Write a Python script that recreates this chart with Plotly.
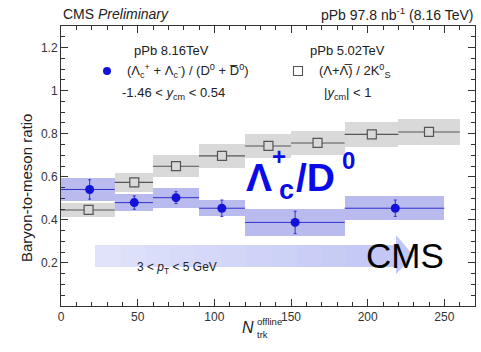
import plotly.graph_objects as go

# ---------------- data ----------------
# pPb 8.16 TeV  Lambda_c+/D0
lc_lo = [0, 35, 60, 90, 120, 185]
lc_hi = [35, 60, 90, 120, 185, 250]
lc_x = [18.7, 47.8, 75.0, 104.9, 152.7, 218.0]
lc_y = [0.541, 0.480, 0.503, 0.454, 0.388, 0.454]
lc_stat = [0.045, 0.031, 0.028, 0.038, 0.052, 0.038]
lc_sys = [0.052, 0.041, 0.046, 0.038, 0.064, 0.057]

# pPb 5.02 TeV  Lambda/2K0S
lk_lo = [0, 35, 60, 90, 120, 150, 185, 220]
lk_hi = [35, 60, 90, 120, 150, 185, 220, 260]
lk_x = [18.0, 47.8, 75.0, 105.0, 135.3, 167.3, 202.7, 240.0]
lk_y = [0.446, 0.574, 0.649, 0.697, 0.743, 0.757, 0.797, 0.808]
lk_sys = [0.033, 0.043, 0.050, 0.054, 0.055, 0.057, 0.058, 0.060]

x_ticks = [0, 50, 100, 150, 200, 250]
y_ticks = [0, 0.2, 0.4, 0.6, 0.8, 1.0, 1.2]
y_ticktext = ["", "0.2", "0.4", "0.6", "0.8", "1", "1.2"]

# ---------------- layout geometry ----------------
W, H = 481, 352
L, R, T, B = 61, 6, 26, 46
PW, PH = W - L - R, H - T - B

def fx(p):
    return (p - L) / PW

def fy(p):
    return (H - B - p) / PH

FONT = "Liberation Sans, Arial, sans-serif"
BLUE = "#1212d8"
BLUEBOX = "#b9baee"
GRAYBOX = "#d9d9d9"
DARK = "#555555"

fig = go.Figure()

def centers(lo, hi):
    return [(a + b) / 2 for a, b in zip(lo, hi)]

def widths(lo, hi):
    return [b - a for a, b in zip(lo, hi)]

# systematic boxes
fig.add_trace(go.Bar(
    x=centers(lk_lo, lk_hi), width=widths(lk_lo, lk_hi),
    base=[v - s for v, s in zip(lk_y, lk_sys)], y=[2 * s for s in lk_sys],
    marker=dict(color=GRAYBOX, line=dict(width=0)), showlegend=False, hoverinfo="skip"))
fig.add_trace(go.Bar(
    x=centers(lc_lo, lc_hi), width=widths(lc_lo, lc_hi),
    base=[v - s for v, s in zip(lc_y, lc_sys)], y=[2 * s for s in lc_sys],
    marker=dict(color=BLUEBOX, line=dict(width=0)), showlegend=False, hoverinfo="skip"))

# points
fig.add_trace(go.Scatter(
    x=lk_x, y=lk_y, mode="markers",
    marker=dict(symbol="square", size=9, color=GRAYBOX, line=dict(color=DARK, width=1.2)),
    error_x=dict(type="data", symmetric=False,
                 array=[h - x for h, x in zip(lk_hi, lk_x)],
                 arrayminus=[x - l for l, x in zip(lk_lo, lk_x)],
                 width=0, thickness=1.1, color=DARK),
    showlegend=False))
fig.add_trace(go.Scatter(
    x=lc_x, y=lc_y, mode="markers",
    marker=dict(symbol="circle", size=9, color=BLUE),
    error_x=dict(type="data", symmetric=False,
                 array=[h - x for h, x in zip(lc_hi, lc_x)],
                 arrayminus=[x - l for l, x in zip(lc_lo, lc_x)],
                 width=0, thickness=1, color="#3030d0"),
    error_y=dict(type="data", array=lc_stat, width=1.5, thickness=1, color="#3030d0"),
    showlegend=False))

# ---------------- decorations ----------------
shapes = []
# gradient arrow band
x0a, x1a, ya0, ya1 = 95, 397, 245, 267
n = 12
for i in range(n):
    a = x0a + (x1a - x0a) * i / n
    b = x0a + (x1a - x0a) * (i + 1) / n + 0.5
    t = i / (n - 1)
    c = "rgb(%d,%d,%d)" % (224 - 30 * t, 227 - 28 * t, 250 - 5 * t)
    shapes.append(dict(type="rect", xref="paper", yref="paper",
                       x0=fx(a), x1=fx(b), y0=fy(ya1), y1=fy(ya0),
                       line=dict(width=0), fillcolor=c, layer="below"))
path = "M %f,%f L %f,%f L %f,%f Z" % (fx(396), fy(235), fx(414), fy(256), fx(396), fy(274))
shapes.append(dict(type="path", xref="paper", yref="paper", path=path,
                   line=dict(width=0), fillcolor="rgb(194,199,245)", layer="below"))
# legend symbols
shapes.append(dict(type="circle", xref="paper", yref="paper", xsizemode="pixel", ysizemode="pixel",
                   xanchor=fx(107), yanchor=fy(71), x0=-4, x1=4, y0=-4, y1=4,
                   fillcolor=BLUE, line=dict(width=0)))
shapes.append(dict(type="rect", xref="paper", yref="paper", xsizemode="pixel", ysizemode="pixel",
                   xanchor=fx(298), yanchor=fy(71), x0=-4.5, x1=4.5, y0=-4.5, y1=4.5,
                   fillcolor="white", line=dict(width=1.1, color=DARK)))

ann = []

def text(x, y, s, size=13, xanchor="center", color="black", **kw):
    ann.append(dict(x=fx(x), y=fy(y), xref="paper", yref="paper", text=s, showarrow=False,
                    xanchor=xanchor, yanchor="middle", font=dict(size=size, color=color, family=FONT), **kw))

text(61, 14, "CMS <i>Preliminary</i>", 14, "left", "#222")
text(475, 14, "pPb 97.8 nb<sup>-1</sup> (8.16 TeV)", 14, "right", "#222")
text(171, 50, "pPb 8.16TeV", 13, "center", "#222")
text(347, 50, "pPb 5.02TeV", 13, "center", "#222")
text(125, 71, "(Λ<sub>c</sub><sup>+</sup> + Λ<sub>c</sub><sup>-</sup>) / (D<sup>0</sup> + D\u0305<sup>0</sup>)", 13, "left", "#222")
text(317, 71, "(Λ+Λ\u0305) / 2K<sup>0</sup><sub>S</sub>", 13, "left", "#222")
text(120, 93, "-1.46 < <i>y</i><sub>cm</sub> < 0.54", 13, "left", "#222")
text(322, 93, "|<i>y</i><sub>cm</sub>| < 1", 13, "left", "#222")
text(135, 268, "3 < <i>p</i><sub>T</sub> < 5 GeV", 12, "left", "#222")
text(405, 255, "CMS", 35, "center", "black")
# big blue label
text(259, 177, "<b>Λ</b>", 39, "center", "#0a0ae8")
text(279, 156, "<b>+</b>", 24, "center", "#0a0ae8")
text(286, 190, "<b>c</b>", 27, "center", "#0a0ae8")
text(315, 177, "<b>/D</b>", 39, "center", "#0a0ae8")
text(348, 160, "<b>0</b>", 24, "center", "#0a0ae8")
# axis titles
text(27, 188, "Baryon-to-meson ratio", 15, "center", "#222", textangle=-90)
text(248, 327, "<i>N</i>", 16, "center", "#222")
text(255, 321, "offline", 9.5, "left", "#222")
text(255, 334, "trk", 9.5, "left", "#222")

fig.update_layout(
    width=W, height=H, margin=dict(l=L, r=R, t=T, b=B),
    paper_bgcolor="white", plot_bgcolor="white",
    barmode="overlay", bargap=0, showlegend=False,
    font=dict(family=FONT, size=12, color="#222"),
    shapes=shapes, annotations=ann,
)
fig.update_xaxes(range=[0, 270], tickmode="array", tickvals=x_ticks,
                 ticks="inside", ticklen=7, tickcolor="#333", showline=True, linecolor="#333",
                 linewidth=1, mirror="allticks", showgrid=False, zeroline=False,
                 tickfont=dict(size=12, color="#333"),
                 minor=dict(tickmode="linear", tick0=0, dtick=10, ticks="inside", ticklen=4,
                            tickcolor="#333", showgrid=False))
fig.update_yaxes(range=[0, 1.3], tickmode="array", tickvals=y_ticks, ticktext=y_ticktext,
                 ticks="inside", ticklen=7, tickcolor="#333", showline=True, linecolor="#333",
                 linewidth=1, mirror="allticks", showgrid=False, zeroline=False,
                 tickfont=dict(size=12, color="#333"),
                 minor=dict(tickmode="linear", tick0=0, dtick=0.05, ticks="inside", ticklen=4,
                            tickcolor="#333", showgrid=False))

fig.write_html("out.html")
